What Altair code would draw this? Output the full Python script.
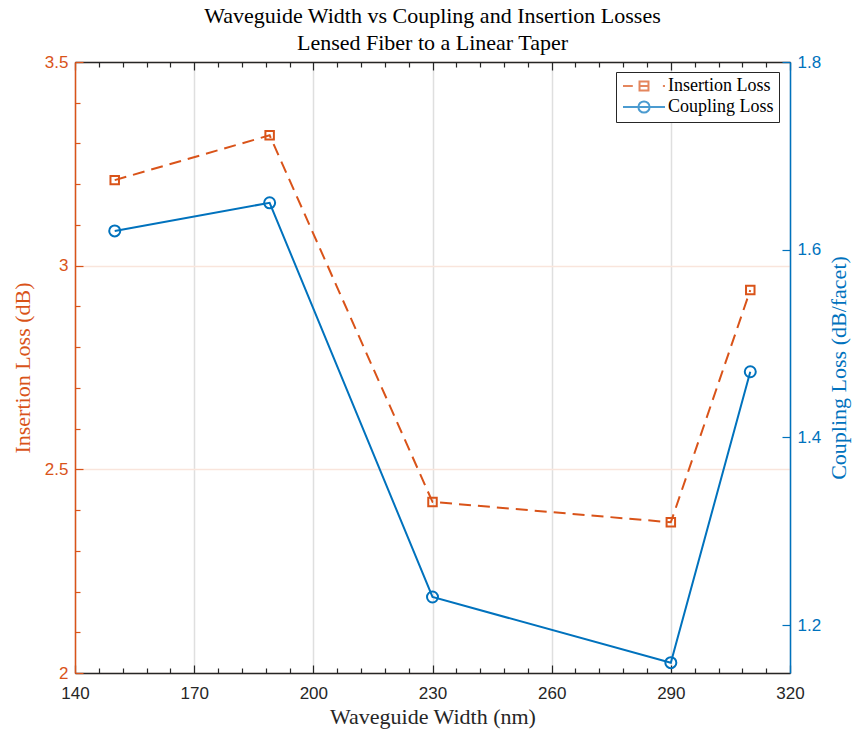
import altair as alt
import pandas as pd

# Measurements per waveguide width
widths = [150, 189, 230, 290, 310]
insertion_loss = [3.21, 3.32, 2.42, 2.37, 2.94]
coupling_loss = [1.62, 1.65, 1.23, 1.16, 1.47]
series_names = ["Insertion Loss", "Coupling Loss"]

# Axis ticks
x_major = [140, 170, 200, 230, 260, 290, 320]
x_minor = [v for v in range(140, 321, 6) if v not in x_major]
left_major = [2, 2.5, 3, 3.5]
left_minor = [round(2 + 0.1 * i, 1) for i in range(16) if i % 5 != 0]
right_major = [1.2, 1.4, 1.6, 1.8]

ORANGE = "#D95319"
BLUE = "#0072BD"
DARK = "#262626"
GRID_GRAY = "#DFDFDF"
GRID_ORANGE = "#F9E5DC"
SANS = "Liberation Sans"
SERIF = "Liberation Serif"

MAJOR = 8   # inward major tick length (px)
MINOR = 5   # inward minor tick length (px)
LABEL_SIZE = 17
TITLE_SIZE = 22


def inward(n):
    # negative tick length draws ticks towards the plot interior
    return {"expr": str(-n)}


def circle_path(r):
    k = 0.5523 * r
    return (f"M{-r},0 C{-r},{-k} {-k},{-r} 0,{-r} C{k},{-r} {r},{-k} {r},0 "
            f"C{r},{k} {k},{r} 0,{r} C{-k},{r} {-r},{k} {-r},0 Z")


# Legend glyphs: line sample with marker, 6 units wide (1 unit = 7 px)
sq = 0.64
IL_SYMBOL = (f"M-3,0H-1.6 M{-sq},{-sq}H{sq}V{sq}H{-sq}Z M{-sq},0H{sq} "
             f"M2.7,0H3")
CL_SYMBOL = "M-3,0H3 " + circle_path(0.8)

df = pd.DataFrame({"width": widths, "insertion": insertion_loss,
                   "coupling": coupling_loss})

x_scale = alt.Scale(domain=[140, 320], nice=False, zero=False)
yl_scale = alt.Scale(domain=[2, 3.5], nice=False, zero=False)
yr_scale = alt.Scale(domain=[1.149, 1.8], nice=False, zero=False)

base = alt.Chart(df)

x_main_axis = alt.Axis(
    orient="bottom", values=x_major, title="Waveguide Width (nm)",
    grid=True, gridColor=GRID_GRAY, gridWidth=1.5,
    domain=True, domainColor=DARK, domainWidth=1.5,
    ticks=True, tickSize=inward(MAJOR), tickColor=DARK, tickWidth=1.2,
    labelPadding=12 + MAJOR, labelFlush=False,
    labelFont=SANS, labelFontSize=LABEL_SIZE, labelColor=DARK,
    titleFont=SERIF, titleFontSize=TITLE_SIZE, titleFontWeight="normal",
    titleColor=DARK, titlePadding=5,
)
yl_main_axis = alt.Axis(
    orient="left", values=left_major, title="Insertion Loss (dB)",
    labelExpr="'' + datum.value",
    grid=True, gridColor=GRID_ORANGE, gridWidth=1.5,
    domain=True, domainColor=ORANGE, domainWidth=1.5,
    ticks=True, tickSize=inward(MAJOR), tickColor=ORANGE, tickWidth=1.2,
    labelPadding=7 + MAJOR, labelFlush=False,
    labelFont=SANS, labelFontSize=LABEL_SIZE, labelColor=ORANGE,
    titleFont=SERIF, titleFontSize=TITLE_SIZE, titleFontWeight="normal",
    titleColor=ORANGE, titlePadding=10,
)
yr_main_axis = alt.Axis(
    orient="right", values=right_major, title="Coupling Loss (dB/facet)",
    labelExpr="'' + datum.value",
    grid=False, domain=True, domainColor=BLUE, domainWidth=1.5,
    ticks=True, tickSize=inward(MAJOR), tickColor=BLUE, tickWidth=1.2,
    labelPadding=7 + MAJOR, labelFlush=False,
    labelFont=SANS, labelFontSize=LABEL_SIZE, labelColor=BLUE,
    titleFont=SERIF, titleFontSize=TITLE_SIZE, titleFontWeight="normal",
    titleColor=BLUE, titleAngle=270, titleX=60,
)

il_line = base.mark_line(color=ORANGE, strokeWidth=2, strokeDash=[12, 7]).encode(
    x=alt.X("width:Q", scale=x_scale, axis=x_main_axis),
    y=alt.Y("insertion:Q", scale=yl_scale, axis=yl_main_axis),
)
il_points = base.mark_point(shape="square", filled=False, size=72,
                            strokeWidth=2, color=ORANGE, opacity=1).encode(
    x=alt.X("width:Q", scale=x_scale, axis=None),
    y=alt.Y("insertion:Q", scale=yl_scale, axis=None),
)


def x_guide(values, orient, size, domain=False):
    # tick-only (and optionally frame-line) axis for the x scale
    return base.mark_point(opacity=0).encode(
        x=alt.X("width:Q", scale=x_scale, axis=alt.Axis(
            orient=orient, values=values,
            ticks=True, tickSize=inward(size), tickColor=DARK, tickWidth=1.2,
            labels=True, labelExpr="''", grid=False, title=None,
            domain=domain, domainColor=DARK, domainWidth=1.5)))


def y_guide(field, scale, values, orient, size, color):
    return base.mark_point(opacity=0).encode(
        y=alt.Y(field, scale=scale, axis=alt.Axis(
            orient=orient, values=values,
            ticks=True, tickSize=inward(size), tickColor=color, tickWidth=1.2,
            labels=True, labelExpr="''", grid=False, title=None,
            domain=False)))


left_group = alt.layer(
    il_line, il_points,
    x_guide(x_minor, "bottom", MINOR),
    x_guide(x_major, "top", MAJOR, domain=True),
    x_guide(x_minor, "top", MINOR),
    y_guide("insertion:Q", yl_scale, left_minor, "left", MINOR, ORANGE),
).resolve_axis(x="independent", y="independent")

cl_line = base.mark_line(color=BLUE, strokeWidth=2).encode(
    x=alt.X("width:Q", scale=x_scale, axis=None),
    y=alt.Y("coupling:Q", scale=yr_scale, axis=yr_main_axis),
)
cl_points = base.mark_point(shape="circle", filled=False, size=121,
                            strokeWidth=2, color=BLUE, opacity=1).encode(
    x=alt.X("width:Q", scale=x_scale, axis=None),
    y=alt.Y("coupling:Q", scale=yr_scale, axis=None),
)
right_group = alt.layer(cl_line, cl_points).resolve_axis(y="independent")

# Legend-only layer: no rows drawn, entries come from the explicit domain
legend_opts = dict(
    orient="none", legendX=541, legendY=10, title=None,
    symbolSize=196, symbolStrokeWidth=2, symbolFillColor="transparent",
    symbolOffset=14, labelOffset=15,
    labelFont=SERIF, labelFontSize=18, labelColor="#000000",
    fillColor="#FFFFFF", strokeColor=DARK, padding=5, rowPadding=2,
    cornerRadius=0,
)
legend_layer = alt.Chart(pd.DataFrame({"series": series_names})).transform_filter(
    "false").mark_point(filled=False, strokeWidth=2).encode(
    color=alt.Color("series:N", scale=alt.Scale(domain=series_names,
                                                range=[ORANGE, BLUE]),
                    legend=alt.Legend(**legend_opts)),
    shape=alt.Shape("series:N", scale=alt.Scale(domain=series_names,
                                                range=[IL_SYMBOL, CL_SYMBOL]),
                    legend=alt.Legend(**legend_opts)),
)

chart = alt.layer(left_group, right_group, legend_layer).resolve_scale(
    y="independent"
).resolve_axis(
    x="independent", y="independent"
).properties(
    width=715, height=611,
    title=alt.TitleParams(
        text=["Waveguide Width vs Coupling and Insertion Losses",
              "Lensed Fiber to a Linear Taper"],
        font=SERIF, fontSize=TITLE_SIZE, fontWeight="normal", color="#000000",
        anchor="middle", offset=-2, lineHeight=27,
    ),
    autosize=alt.AutoSizeParams(type="none"),
    padding={"left": 75, "top": 62, "right": 64, "bottom": 60},
).configure_view(stroke=None).configure(background="#FFFFFF")

chart.save("out.html", embed_options={"renderer": "svg", "actions": False})
